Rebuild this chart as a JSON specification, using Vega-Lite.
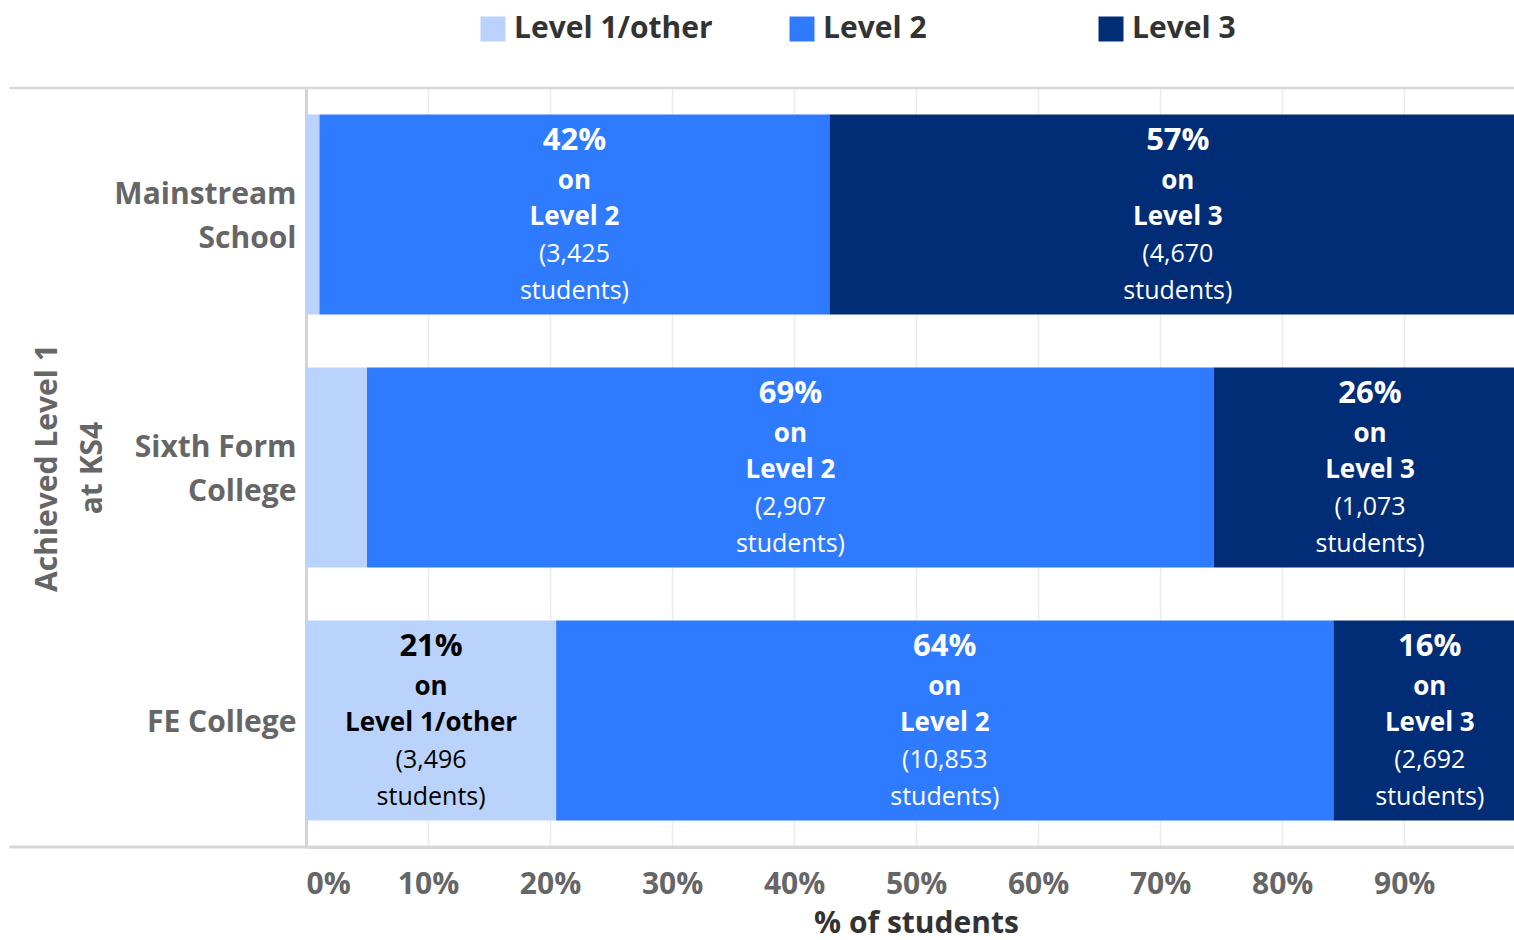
{
  "$schema": "https://vega.github.io/schema/vega-lite/v6.json",
  "width": 1208,
  "height": 759,
  "autosize": {"type": "none"},
  "padding": {"left": 306, "top": 88, "right": 0, "bottom": 93},
  "background": "white",
  "config": {
    "font": "Open Sans",
    "view": {"stroke": null},
    "scale": {"bandPaddingInner": 0.21, "bandPaddingOuter": 0.105}
  },
  "data": {
    "values": [
      {"category": "Mainstream School", "level": "Level 1/other", "level_order": 1, "share": 0.011, "students": null, "pct_text": "", "level_text": "", "count_text": ""},
      {"category": "Mainstream School", "level": "Level 2", "level_order": 2, "share": 0.418, "students": 3425, "pct_text": "42%", "level_text": "on\nLevel 2", "count_text": "(3,425\nstudents)"},
      {"category": "Mainstream School", "level": "Level 3", "level_order": 3, "share": 0.571, "students": 4670, "pct_text": "57%", "level_text": "on\nLevel 3", "count_text": "(4,670\nstudents)"},
      {"category": "Sixth Form College", "level": "Level 1/other", "level_order": 1, "share": 0.050, "students": null, "pct_text": "", "level_text": "", "count_text": ""},
      {"category": "Sixth Form College", "level": "Level 2", "level_order": 2, "share": 0.694, "students": 2907, "pct_text": "69%", "level_text": "on\nLevel 2", "count_text": "(2,907\nstudents)"},
      {"category": "Sixth Form College", "level": "Level 3", "level_order": 3, "share": 0.256, "students": 1073, "pct_text": "26%", "level_text": "on\nLevel 3", "count_text": "(1,073\nstudents)"},
      {"category": "FE College", "level": "Level 1/other", "level_order": 1, "share": 0.205, "students": 3496, "pct_text": "21%", "level_text": "on\nLevel 1/other", "count_text": "(3,496\nstudents)"},
      {"category": "FE College", "level": "Level 2", "level_order": 2, "share": 0.637, "students": 10853, "pct_text": "64%", "level_text": "on\nLevel 2", "count_text": "(10,853\nstudents)"},
      {"category": "FE College", "level": "Level 3", "level_order": 3, "share": 0.158, "students": 2692, "pct_text": "16%", "level_text": "on\nLevel 3", "count_text": "(2,692\nstudents)"}
    ]
  },
  "encoding": {
    "y": {
      "field": "category",
      "type": "nominal",
      "sort": ["Mainstream School", "Sixth Form College", "FE College"],
      "axis": {
        "title": ["Achieved Level 1", "at KS4"],
        "titleFontSize": 30,
        "titleFontWeight": "bold",
        "titleColor": "#666666",
        "titleLineHeight": 45,
        "titlePadding": 6,
        "labelFontSize": 30,
        "labelFontWeight": "bold",
        "labelColor": "#666666",
        "labelLineHeight": 44,
        "labelPadding": 10,
        "labelLimit": 400,
        "labelExpr": "datum.label === 'Mainstream School' ? ['Mainstream', 'School'] : datum.label === 'Sixth Form College' ? ['Sixth Form', 'College'] : datum.label",
        "labelOffset": {"condition": {"test": "datum.value === 'FE College'", "value": 2}, "value": -20},
        "ticks": false,
        "domainColor": "#d3d3d3",
        "domainWidth": 3
      }
    }
  },
  "layer": [
    {
      "data": {"values": [{"edge": "top", "from": -0.243, "to": 0.99}]},
      "mark": {"type": "rule", "color": "#d9d9d9", "strokeWidth": 2.5},
      "encoding": {
        "x": {"field": "from", "type": "quantitative"},
        "x2": {"field": "to"},
        "y": {"datum": "Mainstream School", "type": "nominal", "bandPosition": -0.1329}
      }
    },
    {
      "data": {"values": [{"edge": "bottom", "from": -0.243, "to": 0.99}]},
      "mark": {"type": "rule", "color": "#d6d6d6", "strokeWidth": 3},
      "encoding": {
        "x": {"field": "from", "type": "quantitative"},
        "x2": {"field": "to"},
        "y": {"datum": "FE College", "type": "nominal", "bandPosition": 1.1329}
      }
    },
    {
      "mark": {"type": "bar", "clip": true},
      "encoding": {
        "x": {
          "field": "share",
          "type": "quantitative",
          "stack": "zero",
          "scale": {"domain": [0, 0.99], "nice": false},
          "axis": {
            "title": "% of students",
            "titleFontSize": 30,
            "titleFontWeight": "bold",
            "titleColor": "#333333",
            "titlePadding": 9,
            "titleX": 610,
            "values": [0, 0.1, 0.2, 0.3, 0.4, 0.5, 0.6, 0.7, 0.8, 0.9],
            "format": ".0%",
            "labelFontSize": 30,
            "labelFontWeight": "bold",
            "labelColor": "#666666",
            "labelFlush": true,
            "labelPadding": 22,
            "ticks": false,
            "domainColor": "#d6d6d6",
            "domainWidth": 3,
            "grid": true,
            "gridColor": "#ebebeb",
            "gridWidth": 1.5
          }
        },
        "color": {
          "field": "level",
          "type": "nominal",
          "scale": {
            "domain": ["Level 1/other", "Level 2", "Level 3"],
            "range": ["#b9d3fd", "#2e7bff", "#002d76"]
          },
          "legend": {
            "title": null,
            "orient": "none",
            "legendX": 172,
            "legendY": -74,
            "direction": "horizontal",
            "columns": 3,
            "gridAlign": "all",
            "columnPadding": 74,
            "symbolType": "square",
            "symbolSize": 625,
            "symbolStrokeWidth": 0,
            "symbolOpacity": 1,
            "labelFontSize": 30,
            "labelFontWeight": "bold",
            "labelColor": "#333333",
            "labelOffset": 6,
            "labelLimit": 400
          }
        },
        "order": {"field": "level_order"}
      }
    },
    {
      "mark": {"type": "text", "fontSize": 31, "fontWeight": "bold", "baseline": "middle", "dy": -74},
      "encoding": {
        "x": {"field": "share", "type": "quantitative", "stack": "zero", "bandPosition": 0.5},
        "detail": {"field": "level"},
        "order": {"field": "level_order"},
        "text": {"field": "pct_text"},
        "color": {"condition": {"test": "datum.level === 'Level 1/other'", "value": "#000000"}, "value": "#ffffff"}
      }
    },
    {
      "mark": {"type": "text", "fontSize": 26, "fontWeight": "bold", "baseline": "middle", "lineBreak": "\n", "lineHeight": 36, "dy": -34},
      "encoding": {
        "x": {"field": "share", "type": "quantitative", "stack": "zero", "bandPosition": 0.5},
        "detail": {"field": "level"},
        "order": {"field": "level_order"},
        "text": {"field": "level_text"},
        "color": {"condition": {"test": "datum.level === 'Level 1/other'", "value": "#000000"}, "value": "#ffffff"}
      }
    },
    {
      "mark": {"type": "text", "fontSize": 25, "fontWeight": "normal", "baseline": "middle", "lineBreak": "\n", "lineHeight": 37, "dy": 39},
      "encoding": {
        "x": {"field": "share", "type": "quantitative", "stack": "zero", "bandPosition": 0.5},
        "detail": {"field": "level"},
        "order": {"field": "level_order"},
        "text": {"field": "count_text"},
        "color": {"condition": {"test": "datum.level === 'Level 1/other'", "value": "#000000"}, "value": "#ffffff"}
      }
    }
  ]
}
